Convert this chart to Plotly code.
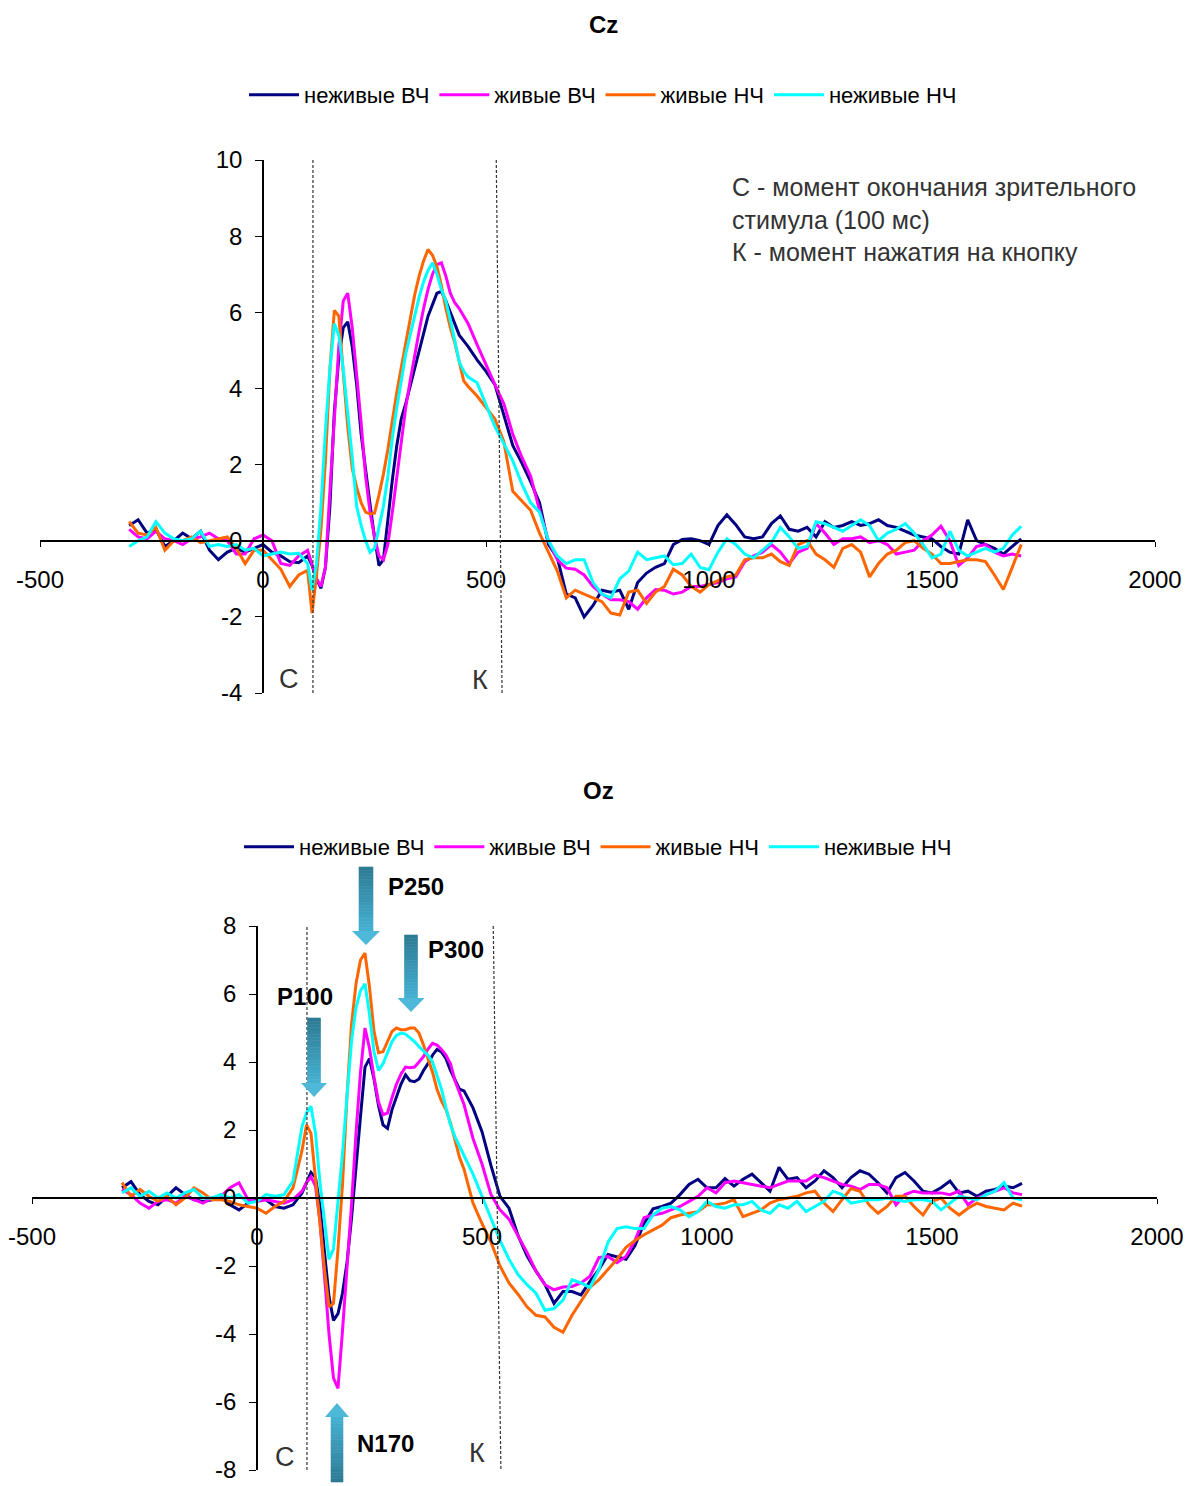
import plotly.graph_objects as go

# ---------------------------------------------------------------------------
# Time axis (ms): 20 ms steps in the baseline and late part, 10 ms around the peaks
# ---------------------------------------------------------------------------
TIME_MS = [
    -300, -280, -260, -240, -220, -200, -180, -160, -140, -120,
    -100, -80, -60, -40, -20, 0, 20, 40, 60, 80, 100,
    110, 120, 130, 140, 150, 160, 170, 180, 190, 200,
    210, 220, 230, 240, 250, 260, 270, 280, 290, 300,
    310, 320, 330, 340, 350, 360, 370, 380, 390, 400,
    410, 420, 430, 440, 450, 460,
    480, 500, 520, 540, 560, 580, 600, 620, 640, 660,
    680, 700, 720, 740, 760, 780, 800, 820, 840, 860,
    880, 900, 920, 940, 960, 980, 1000, 1020, 1040, 1060,
    1080, 1100, 1120, 1140, 1160, 1180, 1200, 1220, 1240, 1260,
    1280, 1300, 1320, 1340, 1360, 1380, 1400, 1420, 1440, 1460,
    1480, 1500, 1520, 1540, 1560, 1580, 1600, 1620, 1640, 1660,
    1680, 1700,
]

SERIES_NAMES = ["неживые ВЧ", "живые ВЧ", "живые НЧ", "неживые НЧ"]
SERIES_COLORS = ["#000080", "#FF00FF", "#FF6600", "#00FFFF"]

# ---------------------------------------------------------------------------
# Cz, µV
# ---------------------------------------------------------------------------
CZ_INANIMATE_HF = [
    0.4, 0.55, 0.2, 0.3, -0.15, 0.0, 0.2, 0.05, 0.25, -0.25,
    -0.5, -0.3, -0.2, -0.3, -0.2, -0.1, -0.3, -0.4, -0.55, -0.58, -0.4,
    -0.65, -1.0, -1.25, -0.7, 0.9, 3.4, 4.8, 5.6, 5.75, 5.1,
    4.1, 2.8, 1.8, 0.95, 0.1, -0.65, -0.5, 0.6, 1.6, 2.5,
    3.2, 3.6, 4.05, 4.5, 5.0, 5.4, 5.9, 6.2, 6.5, 6.55,
    6.3, 6.0, 5.7, 5.4, 5.25, 5.1,
    4.75, 4.45, 4.1, 3.3, 2.5, 2.05, 1.55, 1.0, -0.1, -0.45,
    -1.4, -1.5, -2.0, -1.7, -1.3, -1.35, -1.3, -1.8, -1.1, -0.85,
    -0.7, -0.6, -0.1, 0.03, 0.05, 0.0, -0.1, 0.4, 0.68, 0.42,
    0.1, 0.05, 0.1, 0.45, 0.65, 0.3, 0.25, 0.35, 0.1, 0.5,
    0.35, 0.4, 0.5, 0.4, 0.45, 0.55, 0.4, 0.35, 0.25, 0.15,
    0.1, 0.05, -0.15, -0.3, -0.35, 0.55, 0.0, -0.1, -0.2, -0.35,
    -0.15, 0.05,
]
CZ_ANIMATE_HF = [
    0.3, 0.1, 0.05, 0.25, 0.05, 0.0, -0.1, 0.05, 0.1, 0.2,
    0.05, 0.0, -0.35, -0.35, 0.05, 0.15, 0.0, -0.6, -0.65, -0.4, -0.25,
    -0.6, -1.0, -1.2, -0.7, 1.3, 3.2, 5.1, 6.3, 6.5, 5.6,
    4.4, 3.1, 1.7, 0.75, 0.1, -0.4, -0.5, -0.1, 0.75, 1.7,
    2.6, 3.5, 4.2, 4.9, 5.5, 6.1, 6.6, 7.0, 7.25, 7.3,
    6.95, 6.5, 6.25, 6.1, 5.9, 5.7,
    5.15, 4.6, 4.1, 3.6, 2.8, 2.2, 1.7, 0.8, 0.0, -0.5,
    -0.72, -0.75, -0.9, -1.2, -1.4, -1.55, -1.55, -1.6, -1.8, -1.5,
    -1.28, -1.3, -1.4, -1.35, -1.2, -1.2, -1.15, -1.1, -1.0, -0.95,
    -0.55, -0.4, -0.3, -0.1, -0.3, -0.6, -0.3, -0.2, 0.45, 0.2,
    -0.1, 0.05, 0.05, 0.1, -0.05, 0.0, -0.1, -0.35, -0.3, -0.25,
    0.0, 0.15, 0.38, 0.0, -0.65, -0.45, -0.15, -0.1, -0.3, -0.4,
    -0.35, -0.4,
]
CZ_ANIMATE_LF = [
    0.5, 0.2, 0.15, 0.35, -0.25, 0.0, 0.0, 0.1, -0.05, 0.0,
    0.05, 0.1, -0.2, -0.6, -0.25, -0.25, -0.5, -0.75, -1.2, -0.9, -0.78,
    -1.9, -0.9, 0.3, 2.1, 4.5, 6.05, 5.9, 4.4, 3.0, 1.9,
    1.4, 1.0, 0.75, 0.7, 0.72, 1.2, 1.75, 2.4, 3.2, 3.9,
    4.55, 5.2, 5.8, 6.45, 6.95, 7.35, 7.65, 7.5, 7.2, 6.7,
    6.1, 5.6, 5.2, 4.7, 4.2, 4.05,
    3.8, 3.5, 3.2, 2.6, 1.3, 1.05, 0.8, 0.2, -0.3, -0.8,
    -1.5, -1.3, -1.4, -1.5, -1.6, -1.9, -1.95, -1.35, -1.3, -1.65,
    -1.35, -1.2, -0.75, -0.9, -1.2, -1.35, -1.15, -1.05, -0.95, -0.9,
    -0.5, -0.45, -0.45, -0.35, -0.55, -0.65, -0.1, 0.0, -0.35, -0.5,
    -0.7, -0.2, -0.1, -0.3, -0.95, -0.6, -0.35, -0.25, -0.05, 0.0,
    -0.2, -0.35, -0.6, -0.6, -0.55, -0.5, -0.5, -0.55, -0.9, -1.28,
    -0.7, -0.1,
]
CZ_INANIMATE_LF = [
    -0.15, 0.0, 0.1, 0.5, 0.2, 0.05, 0.0, 0.05, 0.25, -0.15,
    -0.1, -0.15, -0.1, -0.25, -0.2, -0.4, -0.35, -0.3, -0.35, -0.33, -0.6,
    -1.3, -0.6, 0.9, 2.9, 4.5, 5.7, 5.4, 4.5, 3.4, 2.2,
    0.9, 0.4, 0.0, -0.3, -0.2, 0.4, 0.9, 1.7, 2.7, 3.5,
    4.2, 4.9, 5.4, 5.9, 6.4, 6.8, 7.1, 7.3, 7.0, 6.6,
    6.3, 5.8, 5.2, 4.7, 4.45, 4.3,
    4.15, 3.6, 3.0, 2.55, 2.1, 1.5, 1.0, 0.75, 0.0, -0.4,
    -0.6, -0.5, -0.5, -1.1, -1.4, -1.5, -1.0, -0.8, -0.3, -0.5,
    -0.45, -0.4, -0.63, -0.6, -0.35, -0.7, -0.76, -0.3, 0.05, -0.1,
    -0.35, -0.45, -0.25, -0.05, 0.35, 0.1, -0.2, -0.15, 0.5, 0.45,
    0.35, 0.25, 0.4, 0.55, 0.4, 0.0, 0.2, 0.3, 0.45, 0.2,
    -0.1, -0.45, -0.35, 0.25, -0.25, -0.4, -0.3, -0.2, -0.3, -0.2,
    0.15, 0.38,
]

# ---------------------------------------------------------------------------
# Oz, µV
# ---------------------------------------------------------------------------
OZ_INANIMATE_HF = [
    0.3, 0.48, 0.1, -0.1, -0.2, 0.05, 0.3, 0.1, -0.05, -0.1,
    -0.05, 0.1, -0.2, -0.35, -0.15, -0.05, -0.05, -0.25, -0.3, -0.2, 0.15,
    0.45, 0.75, 0.6, -0.25, -1.6, -2.9, -3.6, -3.4, -2.8, -1.9,
    -0.6, 1.0, 2.4, 3.85, 4.1, 3.5, 2.72, 2.15, 2.05, 2.6,
    3.0, 3.35, 3.62, 3.45, 3.42, 3.5, 3.75, 3.95, 4.2, 4.37,
    4.3, 4.1, 3.75, 3.45, 3.2, 3.15,
    2.65, 1.95, 0.95, 0.05, -0.3, -1.1, -1.7, -2.15, -2.55, -3.1,
    -2.75, -2.75, -2.85, -2.45, -2.1, -1.66, -1.72, -1.8, -1.4, -0.75,
    -0.32, -0.25, -0.15, 0.1, 0.4, 0.55, 0.3, 0.3, 0.57, 0.35,
    0.55, 0.7, 0.45, 0.2, 0.9, 0.55, 0.6, 0.3, 0.5, 0.8,
    0.6, 0.3, 0.6, 0.8, 0.7, 0.45, 0.15, 0.6, 0.75, 0.5,
    0.2, 0.15, 0.3, 0.5, 0.15, 0.2, 0.05, 0.2, 0.25, 0.35,
    0.3, 0.43,
]
OZ_ANIMATE_HF = [
    0.25, 0.1, -0.15, -0.3, -0.1, -0.05, -0.15, 0.05, -0.05, -0.15,
    0.0, 0.05, 0.3, 0.45, -0.05, -0.1, -0.05, -0.1, -0.15, -0.05, 0.2,
    0.45, 0.62, 0.35, -0.7, -2.3, -4.0, -5.3, -5.6, -3.9, -2.1,
    -0.2, 1.9, 3.7, 5.0, 4.4, 3.55, 2.82, 2.45, 2.5, 2.95,
    3.35, 3.65, 3.85, 3.83, 3.85, 4.0, 4.16, 4.38, 4.55, 4.5,
    4.37, 4.2, 3.95, 3.45, 3.1, 2.75,
    1.75, 1.0, 0.1, -0.35, -0.62, -1.1, -1.6, -2.15, -2.55, -2.7,
    -2.62, -2.6, -2.5, -2.3, -1.75, -1.72, -1.9, -1.72, -1.25, -0.58,
    -0.5, -0.45, -0.35, -0.25, -0.1, 0.05, 0.3, 0.15, 0.45, 0.5,
    0.45, 0.4, 0.35, 0.3, 0.4, 0.5, 0.5, 0.5, 0.67, 0.6,
    0.5, 0.4, 0.35, 0.25, 0.4, 0.4, 0.3, -0.2, 0.1, 0.2,
    0.15, 0.15, 0.15, 0.1, 0.2, -0.2, 0.0, 0.1, 0.2, 0.3,
    0.15, 0.1,
]
OZ_ANIMATE_LF = [
    0.45, 0.05, 0.25, 0.05, -0.1, 0.05, -0.2, 0.0, 0.3, 0.15,
    -0.05, -0.05, -0.1, -0.2, -0.25, -0.3, -0.45, -0.25, -0.1, 0.3, 1.4,
    2.15, 1.9, 0.5, -0.85, -2.1, -3.2, -3.1, -1.5, 0.4, 3.0,
    5.1, 6.3, 7.0, 7.2, 6.2, 4.9, 4.27, 4.3, 4.6, 4.9,
    5.0, 4.95, 4.95, 5.0, 5.0, 4.85, 4.5, 4.1, 3.7, 3.2,
    2.85, 2.6, 2.2, 1.7, 1.2, 0.85,
    -0.15, -0.75, -1.3, -2.0, -2.5, -2.83, -3.2, -3.45, -3.5, -3.8,
    -3.95, -3.45, -3.05, -2.63, -2.4, -2.1, -1.8, -1.45, -1.25, -1.08,
    -0.95, -0.8, -0.58, -0.5, -0.45, -0.4, -0.2, -0.2, -0.15, -0.05,
    -0.55, -0.45, -0.35, -0.15, -0.05, 0.0, 0.05, 0.15, 0.2, -0.15,
    -0.4, -0.05, 0.28, 0.2, -0.2, -0.45, -0.25, 0.05, 0.05, -0.25,
    -0.5, -0.1, 0.0, -0.3, -0.5, -0.3, -0.15, -0.25, -0.3, -0.35,
    -0.15, -0.24,
]
OZ_INANIMATE_LF = [
    0.15, 0.3, 0.05, 0.2, 0.0, 0.15, 0.0, 0.15, 0.25, 0.0,
    0.0, 0.1, 0.0, 0.1, -0.15, -0.1, 0.1, 0.05, 0.1, 0.5, 2.1,
    2.5, 2.7, 1.9, 0.45, -0.75, -1.8, -1.5, -0.2, 1.3, 3.0,
    4.6, 5.6, 6.1, 6.3, 5.4, 4.3, 3.75, 3.95, 4.25, 4.6,
    4.78, 4.85, 4.82, 4.7, 4.6, 4.45, 4.32, 4.2, 4.0, 3.6,
    3.2, 2.65, 2.15, 1.8, 1.5, 1.25,
    0.7, 0.05, -0.6, -1.25, -1.8, -2.25, -2.55, -2.8, -3.3, -3.25,
    -3.0, -2.4, -2.5, -2.63, -2.1, -1.3, -0.9, -0.85, -0.9, -0.9,
    -0.5, -0.3, -0.25, -0.35, -0.55, -0.4, -0.1, -0.25, -0.3, -0.2,
    -0.2, -0.1, -0.35, -0.45, -0.2, -0.3, -0.1, -0.4, -0.25, -0.1,
    0.2, 0.1, -0.15, -0.1, -0.05, -0.05, 0.0, -0.05, -0.1, -0.05,
    -0.05, -0.1, -0.35, -0.15, 0.05, 0.0, -0.05, 0.1, 0.2, 0.45,
    0.0, -0.05,
]

CZ_SERIES = [CZ_INANIMATE_HF, CZ_ANIMATE_HF, CZ_ANIMATE_LF, CZ_INANIMATE_LF]
OZ_SERIES = [OZ_INANIMATE_HF, OZ_ANIMATE_HF, OZ_ANIMATE_LF, OZ_INANIMATE_LF]
for s in CZ_SERIES + OZ_SERIES:
    assert len(s) == len(TIME_MS), len(s)

X_TICKS = [-500, 0, 500, 1000, 1500, 2000]
X_TICK_TEXT = ["-500", "0", "500", "1000", "1500", "2000"]
CZ_Y_TICKS = [-4, -2, 0, 2, 4, 6, 8, 10]
CZ_Y_TICK_TEXT = ["-4", "-2", "0", "2", "4", "6", "8", "10"]
OZ_Y_TICKS = [-8, -6, -4, -2, 0, 2, 4, 6, 8]
OZ_Y_TICK_TEXT = ["-8", "-6", "-4", "-2", "0", "2", "4", "6", "8"]

# stimulus offset (С) and button press (К) markers, ms
CZ_STIM_END = 112
CZ_PRESS = (523, 536)
OZ_STIM_END = 111
OZ_PRESS = (525, 542)

# ---------------------------------------------------------------------------
W, H = 1186, 1486
FONT = "Liberation Sans, Arial, sans-serif"


def px(x):
    return x / W


def py(y):
    return 1 - y / H


fig = go.Figure()

for i in range(4):
    fig.add_trace(go.Scatter(
        x=TIME_MS, y=CZ_SERIES[i], name=SERIES_NAMES[i], mode="lines",
        line=dict(color=SERIES_COLORS[i], width=3),
        xaxis="x", yaxis="y", legend="legend",
    ))
for i in range(4):
    fig.add_trace(go.Scatter(
        x=TIME_MS, y=OZ_SERIES[i], name=SERIES_NAMES[i], mode="lines",
        line=dict(color=SERIES_COLORS[i], width=3),
        xaxis="x2", yaxis="y2", legend="legend2",
    ))

x_common = dict(
    range=[-500, 2000], tickvals=X_TICKS, ticktext=X_TICK_TEXT,
    ticks="outside", ticklen=5, tickcolor="black", showline=True,
    linecolor="black", linewidth=1.5, showgrid=False, zeroline=False,
    anchor="free", automargin=False, ticklabeloverflow="allow",
    tickfont=dict(family=FONT, size=24, color="black"), ticklabelstandoff=12,
)
y_common = dict(
    ticks="outside", ticklen=7, tickcolor="black", showline=True,
    linecolor="black", linewidth=1.5, showgrid=False, zeroline=False,
    anchor="free", automargin=False, ticklabeloverflow="allow",
    tickfont=dict(family=FONT, size=24, color="black"), ticklabelstandoff=8,
)

legend_common = dict(
    orientation="h", xanchor="center", yanchor="middle",
    font=dict(family=FONT, size=22, color="black"),
    bgcolor="rgba(0,0,0,0)", itemwidth=50, tracegroupgap=0,
)

OZ_TOP, OZ_BOTTOM = 926, 1470   # pixel rows of the Oz +8 / -8 ticks

fig.update_layout(
    width=W, height=H, margin=dict(l=0, r=0, t=0, b=0, autoexpand=False),
    paper_bgcolor="white", plot_bgcolor="white",
    font=dict(family=FONT),
    xaxis=dict(domain=[px(40), px(1155)], position=py(541), **x_common),
    yaxis=dict(domain=[py(693), py(160)], range=[-4, 10], tickvals=CZ_Y_TICKS,
               ticktext=CZ_Y_TICK_TEXT, position=px(263), **y_common),
    xaxis2=dict(domain=[px(32), px(1157)], position=py((OZ_TOP + OZ_BOTTOM) / 2),
                **x_common),
    yaxis2=dict(domain=[py(OZ_BOTTOM), py(OZ_TOP)], range=[-8, 8],
                tickvals=OZ_Y_TICKS, ticktext=OZ_Y_TICK_TEXT, position=px(257),
                **y_common),
    legend=dict(x=px(603), y=py(95), **legend_common),
    legend2=dict(x=px(598), y=py(847), **legend_common),
    showlegend=True,
)

shapes = []
# dashed markers: stimulus offset and button press
dash_style = dict(color="#333333", width=1.2, dash="3px,2px")
shapes.append(dict(type="line", xref="x", yref="y", x0=CZ_STIM_END, x1=CZ_STIM_END,
                   y0=-4, y1=10, line=dash_style))
shapes.append(dict(type="line", xref="x", yref="y", x0=CZ_PRESS[0], x1=CZ_PRESS[1],
                   y0=10, y1=-4, line=dash_style))
shapes.append(dict(type="line", xref="x2", yref="y2", x0=OZ_STIM_END, x1=OZ_STIM_END,
                   y0=-8, y1=8, line=dash_style))
shapes.append(dict(type="line", xref="x2", yref="y2", x0=OZ_PRESS[0], x1=OZ_PRESS[1],
                   y0=8, y1=-8, line=dash_style))


def block_arrow(cx, shaft_w, head_w, y_tail, y_head_base, y_tip, dark, light, head):
    """Block arrow drawn with banded shaft to imitate a gradient fill."""
    out = []
    n = 20
    for k in range(n):
        t0 = y_tail + (y_head_base - y_tail) * k / n
        t1 = y_tail + (y_head_base - y_tail) * (k + 1) / n
        f = (k + 0.5) / n
        col = "#%02X%02X%02X" % tuple(
            round(dark[j] + (light[j] - dark[j]) * f) for j in range(3))
        out.append(dict(type="rect", xref="paper", yref="paper",
                        x0=px(cx - shaft_w / 2), x1=px(cx + shaft_w / 2),
                        y0=py(t0), y1=py(t1), fillcolor=col,
                        line=dict(width=0.6, color=col), layer="above"))
    path = "M {} {} L {} {} L {} {} Z".format(
        px(cx - head_w / 2), py(y_head_base), px(cx + head_w / 2), py(y_head_base),
        px(cx), py(y_tip))
    out.append(dict(type="path", xref="paper", yref="paper", path=path,
                    fillcolor=head, line=dict(width=0), layer="above"))
    return out


DARK = (44, 122, 146)
LIGHT = (70, 176, 210)
HEAD = "#4DB8D8"
shapes += block_arrow(314, 13, 26, 1018, 1083, 1097, DARK, LIGHT, HEAD)   # P100
shapes += block_arrow(366, 14, 28, 867, 931, 945, DARK, LIGHT, HEAD)      # P250
shapes += block_arrow(411, 13, 27, 935, 998, 1012, DARK, LIGHT, HEAD)     # P300
shapes += block_arrow(337, 12, 24, 1482, 1417, 1403, DARK, LIGHT, HEAD)   # N170
fig.update_layout(shapes=shapes)

ann = []


def text(x, y, s, size, bold=False, color="black", xanchor="center",
         yanchor="middle", align="center"):
    ann.append(dict(x=px(x), y=py(y), xref="paper", yref="paper",
                    text=("<b>%s</b>" % s) if bold else s, showarrow=False,
                    xanchor=xanchor, yanchor=yanchor, align=align,
                    font=dict(family=FONT, size=size, color=color)))


text(603, 24, "Cz", 24, bold=True)
text(598, 790, "Oz", 24, bold=True)

text(730, 171, "С - момент окончания зрительного<br>стимула (100 мс)<br>"
     "К - момент нажатия на кнопку", 25, color="#333333",
     xanchor="left", yanchor="top", align="left")

text(289, 679, "С", 27, color="#333333")
text(480, 680, "К", 27, color="#333333")
text(285, 1457, "С", 27, color="#333333")
text(477, 1453, "К", 27, color="#333333")

text(305, 996, "P100", 24, bold=True)
text(416, 886, "P250", 24, bold=True)
text(456, 950, "P300", 24, bold=True)
text(385, 1443, "N170", 24, bold=True)

fig.update_layout(annotations=ann)

fig.write_html("out.html")
